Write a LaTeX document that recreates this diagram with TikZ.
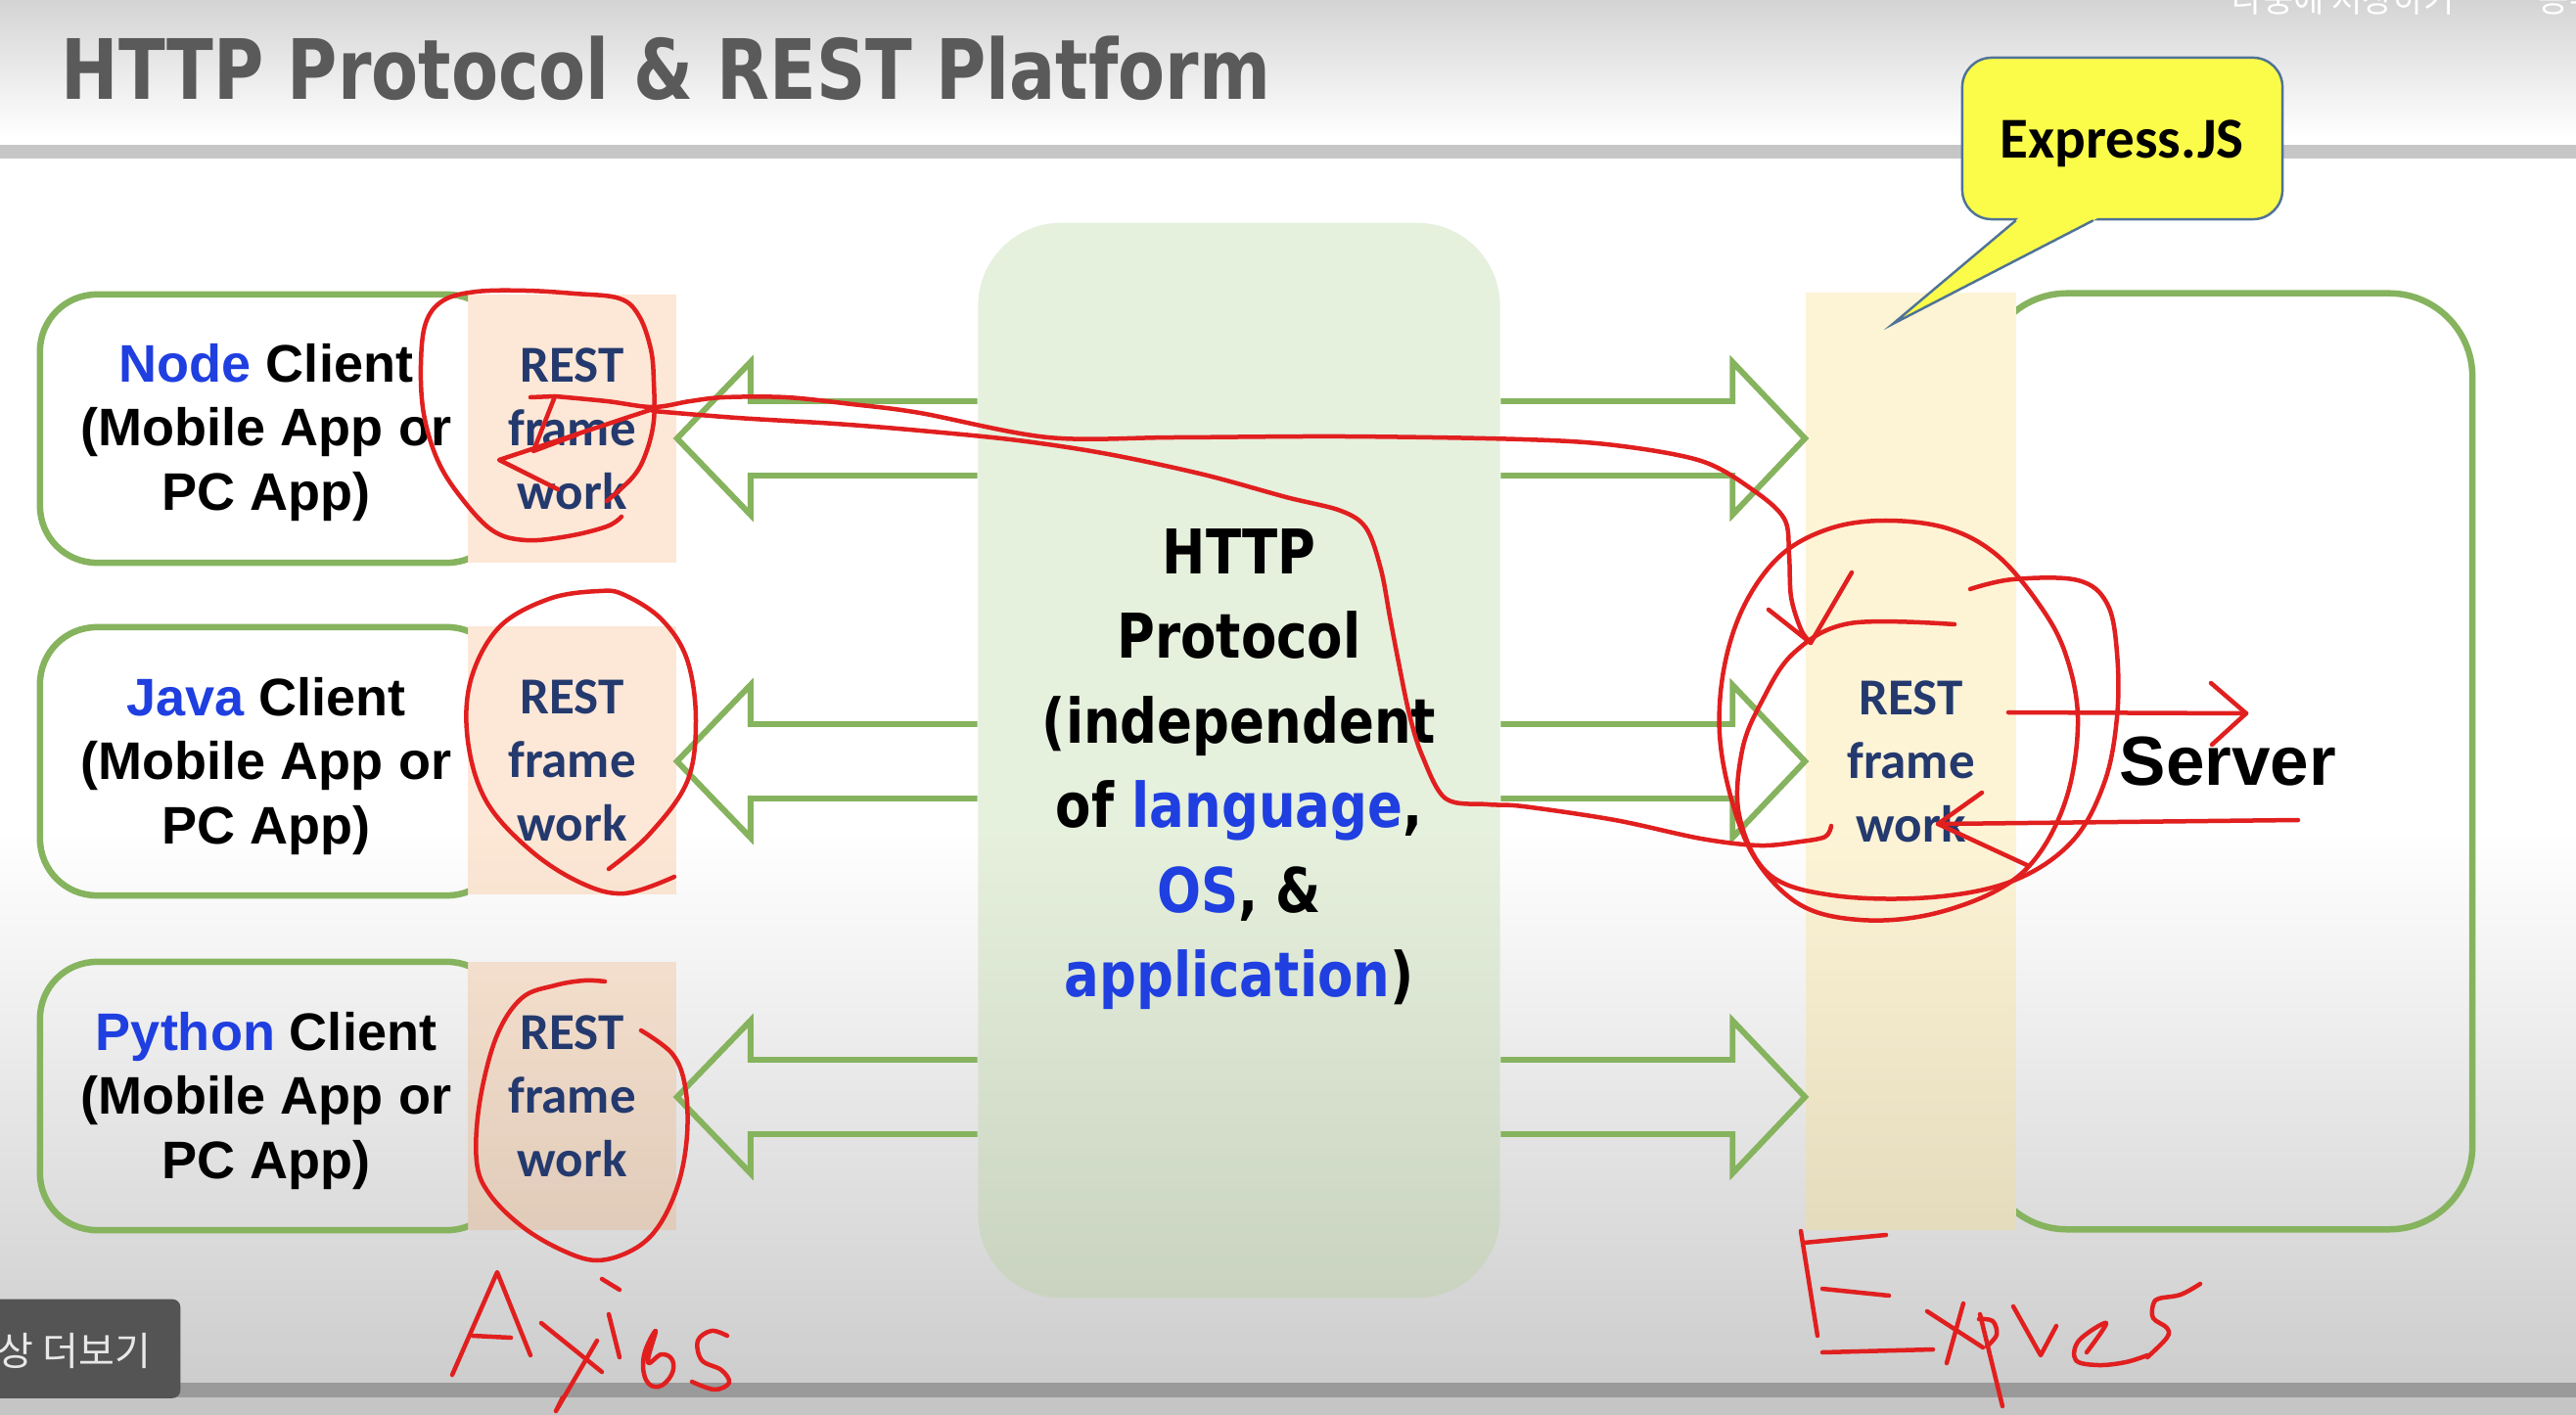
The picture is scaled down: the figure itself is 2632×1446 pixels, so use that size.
\documentclass[tikz,border=0pt]{standalone}
\usepackage{fontspec}
\usepackage{graphicx}
\setmainfont{Liberation Sans}
\newfontfamily\carl{Carlito}
\newfontfamily\dvs{DejaVu Sans}
\newfontfamily\krf{Noto Sans CJK KR}
\usetikzlibrary{calc}

\definecolor{hdrtop}{HTML}{D4D4D4}
\definecolor{grbar}{HTML}{C6C6C6}
\definecolor{botgrey}{HTML}{CDCDCD}
\definecolor{botbar}{HTML}{9A9A9A}
\definecolor{belowbar}{HTML}{C5C5C5}
\definecolor{titlegrey}{HTML}{5A5A5A}
\definecolor{boxgreen}{HTML}{86B35E}
\definecolor{kblue}{HTML}{1F3FE0}
\definecolor{navy}{HTML}{243A6E}
\definecolor{inkred}{HTML}{E11F1F}
\definecolor{httpfill}{RGB}{179,210,152}
\definecolor{restfill}{HTML}{F79646}
\definecolor{expfill}{RGB}{250,220,130}
\definecolor{calloutfill}{HTML}{FBFB4A}
\definecolor{calloutline}{HTML}{4F7396}
\definecolor{ovlgrey}{HTML}{545454}
\definecolor{ovltext}{HTML}{E8E8E8}

\tikzset{
  arrowline/.style={draw=boxgreen, line width=1.7pt, line join=miter},
  ink/.style={draw=inkred, line width=1.28pt, line cap=round, line join=round},
  clientbox/.style={draw=boxgreen, line width=1.85pt, rounded corners=0.58cm,
    minimum width=4.74cm, minimum height=2.74cm, inner sep=0pt},
  clienttext/.style={align=center, inner sep=0pt, text=black,
    font=\bfseries\fontsize{15.36pt}{18.5pt}\selectfont},
  restbox/.style={fill=restfill, fill opacity=0.22, text opacity=1, draw=none,
    minimum width=2.13cm, minimum height=2.74cm, inner sep=0pt, align=center,
    text=navy, font=\carl\bfseries\fontsize{15.08pt}{18.5pt}\selectfont},
  expbox/.style={fill=expfill, fill opacity=0.33, text opacity=1, draw=none,
    minimum width=2.15cm, minimum height=9.57cm, inner sep=0pt, align=center,
    text=navy, font=\carl\bfseries\fontsize{15.08pt}{18.5pt}\selectfont},
  httpbox/.style={fill=httpfill, fill opacity=0.33, text opacity=1, draw=none,
    rounded corners=0.85cm, minimum width=5.33cm, minimum height=10.98cm,
    inner sep=0pt},
  httptext/.style={inner sep=0pt, text=black, font=\dvs\bfseries\fontsize{17.93pt}{24.6pt}\selectfont},
  serverbox/.style={draw=boxgreen, line width=1.85pt, rounded corners=0.85cm,
    minimum width=4.99cm, minimum height=9.56cm, inner sep=0pt},
  callout/.style={fill=calloutfill, draw=calloutline, line width=0.7pt,
    rounded corners=0.3cm, minimum width=3.27cm, minimum height=1.65cm, inner sep=0pt},
  callouttext/.style={inner sep=0pt, text=black, font=\carl\bfseries\fontsize{16.8pt}{20pt}\selectfont},
}

\begin{document}
\begin{tikzpicture}[x=0.01cm, y=-0.01cm]
\path[use as bounding box] (0,0) rectangle (2632,1446);
\clip (0,0) rectangle (2632,1446);

% ---------- background ----------
\fill[top color=hdrtop, bottom color=white] (0,0) rectangle (2632,140);
\fill[white] (0,140) rectangle (2632,148);
\fill[grbar] (0,148) rectangle (2632,162);
\fill[white] (0,162) rectangle (2632,850);
\fill[top color=white, bottom color=botgrey] (0,850) rectangle (2632,1413);
\fill[botbar] (0,1413) rectangle (2632,1428);
\fill[belowbar] (0,1428) rectangle (2632,1446);

% ---------- title and overlays ----------
\node[anchor=base west, inner sep=0pt, text=titlegrey,
  font=\dvs\bfseries\fontsize{24.2pt}{29pt}\selectfont] (title) at (62,102)
  {\scalebox{0.822}[1]{HTTP Protocol \& REST Platform}};
\node[anchor=base west, inner sep=0pt, text=white,
  font=\krf\fontsize{9.7pt}{11pt}\selectfont] (watchlater) at (2280,13) {나중에 저장하기};
\node[anchor=base west, inner sep=0pt, text=white,
  font=\krf\fontsize{9.7pt}{11pt}\selectfont] (share) at (2593,13) {공유};

% ---------- central HTTP box ----------
\node[httpbox] (http) at (1266,777) {};
\node[httptext] (httpT) at (1266,785) {\scalebox{0.84}[1]{\begin{tabular}{@{}c@{}}HTTP\\Protocol\\(independent\\of \textcolor{kblue}{language},\\\textcolor{kblue}{OS}, \&\\\textcolor{kblue}{application})\end{tabular}}};

% ---------- REST boxes (clients) ----------
\node[restbox] (restN) at (584.5,438) {REST\\frame\\work};
\node[restbox] (restJ) at (584.5,777) {REST\\frame\\work};
\node[restbox] (restP) at (584.5,1120) {REST\\frame\\work};

% ---------- Express column ----------
\node[expbox] (expR) at (1952.5,778) {REST\\frame\\work};

% ---------- block arrows ----------
\coordinate (a1) at (restN.east |- 0,448);
\coordinate (a2) at (restJ.east |- 0,778);
\coordinate (a3) at (restP.east |- 0,1121);
\coordinate (b1) at (expR.west |- 0,448);
\coordinate (b2) at (expR.west |- 0,778);
\coordinate (b3) at (expR.west |- 0,1121);
\foreach \t/\s in {a1/b1,a2/b2,a3/b3}{
  \draw[arrowline] ($(http.west |- \t)+(0,-38)$) -- ($(\t)+(75,-38)$) -- ($(\t)+(75,-78)$)
    -- (\t) -- ($(\t)+(75,78)$) -- ($(\t)+(75,38)$) -- ($(http.west |- \t)+(0,38)$);
  \draw[arrowline] ($(http.east |- \s)+(0,-38)$) -- ($(\s)+(-74,-38)$) -- ($(\s)+(-74,-78)$)
    -- (\s) -- ($(\s)+(-74,78)$) -- ($(\s)+(-74,38)$) -- ($(http.east |- \s)+(0,38)$);
}

% ---------- client boxes ----------
\begin{scope}
  \clip (0,0) rectangle (478,1446);
  \node[clientbox] (nodeC) at (278,438) {};
  \node[clientbox] (javaC) at (278,778) {};
  \node[clientbox] (pyC) at (278,1120) {};
\end{scope}
\node[clienttext] (nodeT) at (272,442) {\textcolor{kblue}{Node} Client\\(Mobile App or\\PC App)};
\node[clienttext] (javaT) at (272,783) {\textcolor{kblue}{Java} Client\\(Mobile App or\\PC App)};
\node[clienttext] (pyT) at (272,1125) {\textcolor{kblue}{Python} Client\\(Mobile App or\\PC App)};

% ---------- server ----------
\begin{scope}
  \clip (2060,0) rectangle (2632,1446);
  \node[serverbox] (server) at (2276.5,778) {};
\end{scope}
\node[inner sep=0pt, font=\bfseries\fontsize{20.2pt}{24pt}\selectfont] (servertxt) at (server.center) {Server};

% ---------- callout ----------
\node[callout] (cjs) at (2168.5,141.5) {};
\node[callouttext] (cjsT) at (2168,147) {Express.JS};
\coordinate (ctip) at (1934,331);
\fill[calloutfill] ($(cjs.south west)+(60.7,-4)$) -- (ctip) -- ($(cjs.south west)+(142.7,-4)$) -- cycle;
\draw[draw=calloutline, line width=0.7pt, line join=miter] ($(cjs.south west)+(56,0)$) -- (ctip) -- ($(cjs.south west)+(135,0)$);

% ---------- bottom-left overlay ----------
\node[fill=ovlgrey, rounded corners=0.08cm, minimum width=2.15cm, minimum height=1.01cm,
  anchor=north east, inner sep=0pt] (morebox) at (185,1327) {};
\node[anchor=base east, inner sep=0pt, text=ovltext,
  font=\krf\fontsize{11.4pt}{13pt}\selectfont] (moretxt) at (155,1395) {동영상 더보기};

% ---------- red handwriting ----------
% loop around Node REST
\draw[ink] plot[smooth, tension=0.6] coordinates {(635,528) (620,538) (580,548) (537,552) (503,542) (470,507) (447,470) (433,423) (430,373) (435,330) (453,307) (487,298) (537,297) (587,300) (633,305) (653,323) (665,357) (668,390) (668,430) (660,463) (647,487) (620,512)};
% arrow marks in Node REST
\draw[ink] (542,406) -- (567,405) -- (545,461) -- (590,444);
\draw[ink] (667,418) -- (510,470) -- (570,500);
% request curve to Express
\draw[ink] plot[smooth, tension=0.55] coordinates {(567,405) (620,410) (667,416) (705,410) (740,406) (803,406) (870,413) (940,422) (1071,447) (1200,447) (1374,446) (1556,449) (1650,455) (1738,471) (1790,500) (1823,530) (1828,567) (1830,610) (1840,643) (1850,657)};
\draw[ink] (1807,623) -- (1850,657) -- (1892,585);
% response curve back to Node
\draw[ink] plot[smooth, tension=0.55] coordinates {(667,420) (753,427) (853,433) (940,440) (1040,450) (1132,464) (1230,485) (1314,508) (1370,522) (1396,540) (1411,582) (1420,630) (1429,677) (1440,730) (1453,772) (1477,816) (1520,822) (1556,824) (1650,838) (1738,857) (1798,864) (1840,860) (1865,855) (1871,844)};
% loops around Express REST
\draw[ink] plot[smooth cycle, tension=0.6] coordinates {(1927,532) (1990,540) (2040,567) (2083,617) (2110,667) (2123,733) (2113,810) (2083,873) (2040,910) (1970,935) (1900,940) (1840,925) (1795,880) (1770,820) (1757,750) (1762,680) (1783,617) (1820,567) (1870,540)};
\draw[ink] plot[smooth, tension=0.6] coordinates {(2013,602) (2057,592) (2123,593) (2153,617) (2163,667) (2163,733) (2150,800) (2117,860) (2057,900) (1973,917) (1873,915) (1807,893) (1777,833) (1780,767) (1800,717) (1833,667) (1890,637) (1997,638)};
% arrows to and from the server
\draw[ink] (2052,728) -- (2295,729);
\draw[ink] (2259,698) -- (2295,729) -- (2260,761);
\draw[ink] (2348,838) -- (1980,842);
\draw[ink] (2025,810) -- (1980,842) -- (2073,885);
% loop around Java REST
\draw[ink] plot[smooth, tension=0.6] coordinates {(622,888) (663,853) (702,799) (711,736) (702,674) (676,633) (638,608) (612,604) (561,612) (510,641) (481,695) (478,757) (497,819) (542,869) (593,902) (638,913) (689,896)};
% loop around Python REST
\draw[ink] plot[smooth, tension=0.6] coordinates {(655,1053) (687,1077) (700,1110) (702,1160) (693,1210) (673,1253) (647,1277) (610,1288) (573,1277) (533,1253) (500,1220) (487,1187) (490,1127) (507,1060) (533,1020) (567,1007) (597,1002) (618,1003)};
% "Axios"
\draw[ink] (462,1405) -- (508,1300) -- (542,1385);
\draw[ink] (483,1365) -- (522,1367);
\draw[ink] (553,1352) -- (615,1402);
\draw[ink] (610,1370) -- (568,1442) -- (575,1428);
\draw[ink] (622,1343) -- (633,1387);
\draw[ink] (615,1307) -- (633,1318);
\draw[ink] plot[smooth cycle, tension=0.7] coordinates {(670,1360) (658,1385) (660,1410) (673,1417) (686,1405) (687,1390) (676,1384) (662,1392)};
\draw[ink] plot[smooth, tension=0.6] coordinates {(743,1365) (727,1360) (713,1370) (717,1390) (737,1400) (745,1413) (730,1420) (707,1412)};
% "Expres"
\draw[ink] (1843,1270) -- (1927,1262);
\draw[ink] (1840,1258) -- (1857,1365);
\draw[ink] (1862,1317) -- (1930,1324);
\draw[ink] (1862,1382) -- (1975,1379);
\draw[ink] (1969,1340) -- (2026,1377);
\draw[ink] (2006,1332) -- (1989,1393);
\draw[ink] (2023,1343) -- (2046,1437);
\draw[ink] plot[smooth, tension=0.6] coordinates {(2022,1348) (2036,1350) (2040,1364) (2030,1376)};
\draw[ink] (2057,1335) -- (2085,1385) -- (2101,1355);
\draw[ink] plot[smooth, tension=0.6] coordinates {(2132,1382) (2152,1352) (2124,1370) (2121,1390) (2144,1395) (2172,1392) (2194,1385)};
\draw[ink] plot[smooth, tension=0.6] coordinates {(2194,1387) (2214,1367) (2214,1357) (2200,1347) (2200,1333) (2206,1327) (2228,1323) (2248,1312)};
\end{tikzpicture}
\end{document}
